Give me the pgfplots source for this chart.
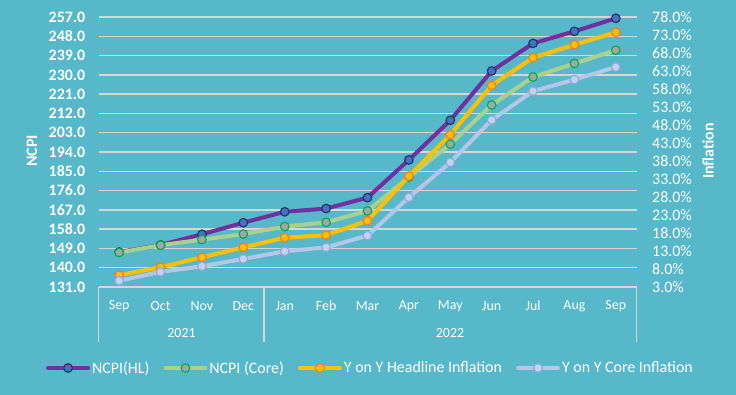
\documentclass[border=0pt]{standalone}
\usepackage{pgfplots}
\usepackage{pgfplotstable}
\pgfplotsset{compat=1.18}
\usepackage{fontspec}
\setmainfont{Carlito}
\definecolor{bg}{RGB}{86,184,200}
\definecolor{gridc}{RGB}{214,214,214}
\definecolor{hlline}{RGB}{112,48,160}
\definecolor{hlfill}{RGB}{68,114,196}
\definecolor{hldraw}{RGB}{31,56,100}
\definecolor{coreline}{RGB}{169,209,142}
\definecolor{corefill}{RGB}{165,165,165}
\definecolor{coredraw}{RGB}{0,176,80}
\definecolor{yhline}{RGB}{255,192,0}
\definecolor{yhfill}{RGB}{255,192,0}
\definecolor{yhdraw}{RGB}{237,125,49}
\definecolor{ycline}{RGB}{180,199,231}
\definecolor{ycfill}{RGB}{196,210,238}
\definecolor{ycdraw}{RGB}{143,170,220}

\pgfplotstableread{
x hl core
0 147.3 147.1
1 150.6 150.5
2 155.6 153.1
3 161.0 155.7
4 166.1 159.2
5 167.6 161.2
6 172.7 166.5
7 190.3 182.3
8 208.8 197.7
9 231.8 215.9
10 244.7 229.0
11 250.3 235.3
12 256.4 241.5
}\ncpi

\pgfplotstableread{
x head core
0 6.3 4.75
1 8.5 7.2
2 11.25 8.75
3 14.0 10.8
4 16.7 12.9
5 17.4 14.0
6 21.4 17.25
7 33.8 27.9
8 45.3 37.6
9 59.0 49.4
10 66.7 57.4
11 70.3 60.6
12 73.75 64.1
}\infl

\pgfplotsset{
  base/.style={at={(98.5bp,108bp)}, anchor=south west, scale only axis,
    width=538bp, height=270bp, xmin=-0.5, xmax=12.5,
    axis line style={draw=none}, major tick length=0pt, clip=false,
    /pgf/number format/assume math mode=true},
  hlstyle/.style={hlline, line width=4bp, line join=round, mark=*, mark size=4.3bp,
    mark options={fill=hlfill, draw=hldraw, line width=1.2bp, solid}},
  corestyle/.style={coreline, line width=4bp, line join=round, mark=*, mark size=4.3bp,
    mark options={fill=corefill, draw=coredraw, line width=1.2bp, solid}},
  yhstyle/.style={yhline, line width=4bp, line join=round, mark=*, mark size=4.3bp,
    mark options={fill=yhfill, draw=yhdraw, line width=1.2bp, solid}},
  ycstyle/.style={ycline, line width=4bp, line join=round, mark=*, mark size=4.3bp,
    mark options={fill=ycfill, draw=ycdraw, line width=1.2bp, solid}},
}

\begin{document}
\begin{tikzpicture}
\fill[bg] (0,0) rectangle (736bp,395bp);

\begin{axis}[base,
  ymin=131, ymax=257, ytick={131,140,...,257},
  yticklabel style={font=\bfseries\fontsize{16}{16}\selectfont, text=white,
    anchor=east, inner sep=0pt, xshift=-13bp,
    /pgf/number format/fixed, /pgf/number format/fixed zerofill,
    /pgf/number format/precision=1},
  ymajorgrids, grid style={gridc, line width=1.5bp},
  xtick={0,...,12},
  xticklabels={Sep,Oct,Nov,Dec,Jan,Feb,Mar,Apr,May,Jun,Jul,Aug,Sep},
  xticklabel style={font=\fontsize{14}{14}\selectfont, text=white, anchor=center,
    yshift=-19bp, inner sep=0pt},
  legend columns=4,
  legend cell align=left,
  legend image code/.code={\draw[mark repeat=2,mark phase=2,line cap=round,#1]
     plot coordinates {(0bp,0bp) (20bp,0bp) (40bp,0bp)};},
  legend style={at={(rel axis cs:0.5046,-0.3)}, anchor=center, draw=none, fill=none,
    font=\fontsize{16}{16}\selectfont, text=white, inner sep=0pt,
    nodes={inner sep=1bp},
    /tikz/every odd column/.append style={column sep=1bp},
    /tikz/every even column/.append style={column sep=13bp}},
]
\addplot[hlstyle] table[x=x, y=hl] {\ncpi};
\addlegendentry{NCPI(HL)}
\addplot[corestyle] table[x=x, y=core] {\ncpi};
\addlegendentry{NCPI (Core)}
\addlegendimage{yhstyle}
\addlegendentry{Y on Y Headline Inflation}
\addlegendimage{ycstyle}
\addlegendentry{Y on Y Core Inflation}
\end{axis}

\begin{axis}[base,
  ymin=3, ymax=78, ytick={3,8,...,78},
  yticklabel pos=right,
  yticklabel={\pgfmathprintnumber[fixed,fixed zerofill,precision=1]{\tick}\%},
  yticklabel style={font=\fontsize{16}{16}\selectfont, text=white,
    anchor=west, inner sep=0pt, xshift=15.5bp},
  xtick=\empty,
]
\addplot[yhstyle] table[x=x, y=head] {\infl};
\addplot[ycstyle] table[x=x, y=core] {\infl};
\end{axis}

\draw[gridc, line width=1.5bp] (98.5bp,108bp) -- (98.5bp,53bp);
\draw[gridc, line width=1.5bp] (264bp,108bp) -- (264bp,53bp);
\draw[gridc, line width=1.5bp] (636.5bp,108bp) -- (636.5bp,53bp);
\node[text=white, font=\fontsize{14}{14}\selectfont] at (181.5bp,62bp) {2021};
\node[text=white, font=\fontsize{14}{14}\selectfont] at (450bp,62bp) {2022};
\node[rotate=90, text=white, font=\bfseries\fontsize{16}{16}\selectfont] at (32bp,244bp) {NCPI};
\node[rotate=90, text=white, font=\bfseries\fontsize{16}{16}\selectfont] at (708bp,244bp) {Inflation};

\pgfresetboundingbox
\path (0,0) rectangle (736bp,395bp);
\end{tikzpicture}
\end{document}
